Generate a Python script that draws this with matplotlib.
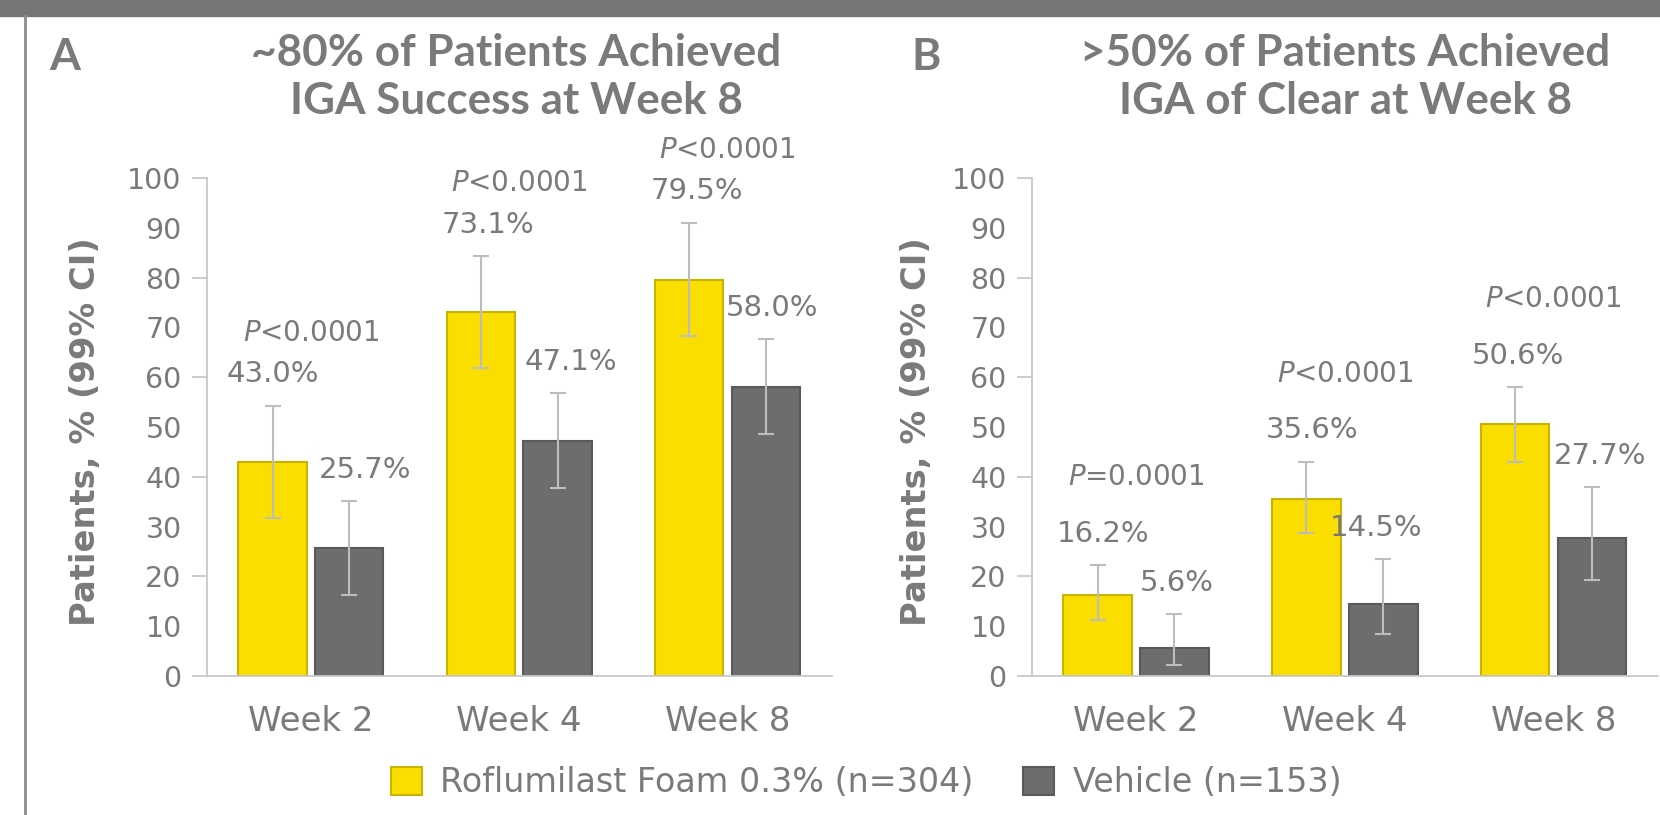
import matplotlib
matplotlib.use('Agg')
import matplotlib.pyplot as plt
from matplotlib.patches import Patch, Rectangle
from matplotlib.lines import Line2D
import numpy as np

plt.rcParams['font.family'] = ['DejaVu Sans']

weeks = ['Week 2', 'Week 4', 'Week 8']

# panel A: IGA success
a_roflu = [43.0, 73.1, 79.5]
a_roflu_lo = [31.8, 61.8, 68.3]
a_roflu_hi = [54.3, 84.3, 91.0]
a_vehicle = [25.7, 47.1, 58.0]
a_vehicle_lo = [16.3, 37.7, 48.5]
a_vehicle_hi = [35.2, 56.8, 67.6]
a_pvals = ['$P$<0.0001', '$P$<0.0001', '$P$<0.0001']

# panel B: IGA of clear
b_roflu = [16.2, 35.6, 50.6]
b_roflu_lo = [11.3, 28.8, 42.9]
b_roflu_hi = [22.3, 43.0, 58.0]
b_vehicle = [5.6, 14.5, 27.7]
b_vehicle_lo = [2.2, 8.5, 19.3]
b_vehicle_hi = [12.5, 23.5, 37.9]
b_pvals = ['$P$=0.0001', '$P$<0.0001', '$P$<0.0001']

yellow = '#F9DE00'
yellow_edge = '#C8B400'
dark = '#6D6D6D'
dark_edge = '#5A5A5A'
txt = '#7A7A7A'
axis_col = '#C8C8C8'
err_col = '#BDBDBD'

W, H = 1660, 815
fig = plt.figure(figsize=(W / 100, H / 100), dpi=100)

def draw_panel(ax, roflu, rlo, rhi, veh, vlo, vhi, pvals, p_off, nudge_y, nudge_v):
    x = np.arange(len(weeks))
    bw = 0.328
    off = 0.02 + bw / 2
    ax.bar(x - off, roflu, bw, color=yellow, edgecolor=yellow_edge, linewidth=1.5, zorder=2)
    ax.bar(x + off, veh, bw, color=dark, edgecolor=dark_edge, linewidth=1.5, zorder=2)
    r_err = [np.array(roflu) - np.array(rlo), np.array(rhi) - np.array(roflu)]
    v_err = [np.array(veh) - np.array(vlo), np.array(vhi) - np.array(veh)]
    ax.errorbar(x - off, roflu, yerr=r_err, fmt='none', ecolor=err_col, elinewidth=1.5, capsize=6, capthick=1.5, zorder=3)
    ax.errorbar(x + off, veh, yerr=v_err, fmt='none', ecolor=err_col, elinewidth=1.5, capsize=6, capthick=1.5, zorder=3)
    for i in range(len(weeks)):
        ylab = rhi[i] + 6.3
        ax.text(x[i] - off + nudge_y[i], ylab, f'{roflu[i]:.1f}%', ha='center', va='center', fontsize=21, color=txt)
        ax.text(x[i] + off + nudge_v[i], vhi[i] + 6.2, f'{veh[i]:.1f}%', ha='center', va='center', fontsize=21, color=txt)
        ax.text(x[i], ylab + p_off, pvals[i], ha='center', va='center', fontsize=20, color=txt)

    ax.set_xlim(-0.5, 2.5)
    ax.set_ylim(0, 100)
    ax.set_xticks(x)
    ax.set_xticklabels(weeks, fontsize=24.5, color=txt)
    ax.tick_params(axis='x', length=0, pad=21)
    ax.yaxis.remove_overlapping_locs = False
    ax.set_yticks(range(0, 101, 10))
    ax.set_yticks(range(0, 101, 20), minor=True)
    ax.tick_params(axis='y', which='major', length=0, pad=18, labelsize=20.5, labelcolor=txt)
    ax.tick_params(axis='y', which='minor', length=11, width=1.3, color=axis_col)
    for s in ['top', 'right']:
        ax.spines[s].set_visible(False)
    for s in ['left', 'bottom']:
        ax.spines[s].set_color(axis_col)
        ax.spines[s].set_linewidth(1.3)

axA = fig.add_axes([206.7 / W, 1 - 676 / H, 625 / W, (676 - 178) / H])
axB = fig.add_axes([1031.7 / W, 1 - 676 / H, 626.3 / W, (676 - 178) / H])
draw_panel(axA, a_roflu, a_roflu_lo, a_roflu_hi, a_vehicle, a_vehicle_lo, a_vehicle_hi, a_pvals, 8.3,
           [0.0, 0.035, 0.035], [0.075, 0.065, 0.03])
draw_panel(axB, b_roflu, b_roflu_lo, b_roflu_hi, b_vehicle, b_vehicle_lo, b_vehicle_hi, b_pvals, 11.4,
           [0.025, 0.025, 0.015], [0.01, -0.035, 0.04])

# y labels
for xc in [86, 916]:
    fig.text(xc / W, 1 - 432 / H, 'Patients, % (99% CI)', rotation=90, ha='center', va='center',
             fontsize=24.3, fontweight='bold', color=txt)

# titles
tfont = dict(family=['Lato', 'DejaVu Sans'], fontweight='bold', color=txt, ha='center', va='center')
fig.text(516 / W, 1 - 53 / H, '~80% of Patients Achieved', fontsize=31.7, **tfont)
fig.text(516 / W, 1 - 101 / H, 'IGA Success at Week 8', fontsize=31.7, **tfont)
fig.text(1345 / W, 1 - 53 / H, '>50% of Patients Achieved', fontsize=31.7, **tfont)
fig.text(1345 / W, 1 - 101 / H, 'IGA of Clear at Week 8', fontsize=31.7, **tfont)
fig.text(65 / W, 1 - 57 / H, 'A', fontsize=32, **tfont)
fig.text(926 / W, 1 - 57 / H, 'B', fontsize=32, **tfont)

# frame decorations
fig.patches.append(Rectangle((0, 1 - 16 / H), 1, 16 / H, transform=fig.transFigure, color='#767676', zorder=0))
fig.lines.append(Line2D([25 / W, 25 / W], [0, 1 - 16 / H], transform=fig.transFigure, color='#8C8C8C', lw=2))

handles = [Patch(facecolor=yellow, edgecolor=yellow_edge, linewidth=1.5),
           Patch(facecolor=dark, edgecolor=dark_edge, linewidth=1.5)]
fig.legend(handles, ['Roflumilast Foam 0.3% (n=304)', 'Vehicle (n=153)'], loc='center',
           bbox_to_anchor=(866 / W, 1 - 783 / H), ncol=2, frameon=False, fontsize=24,
           labelcolor=txt, handlelength=0.93, handleheight=0.93, handletextpad=0.55, columnspacing=1.5)

fig.savefig('out.png', dpi=100)
